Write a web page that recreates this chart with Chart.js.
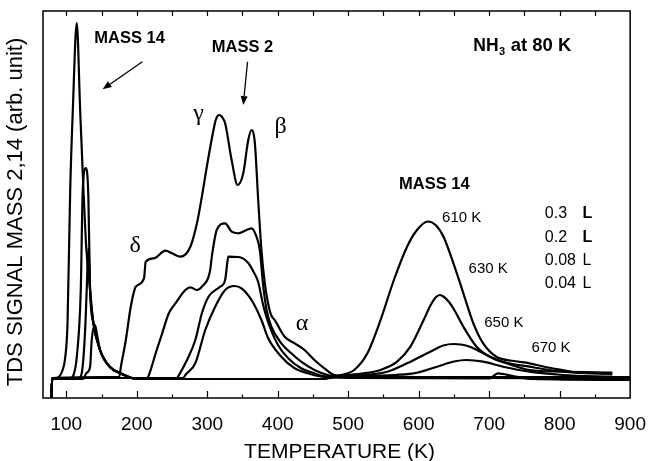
<!DOCTYPE html>
<html><head><meta charset="utf-8">
<script src="https://cdn.jsdelivr.net/npm/chart.js@4"></script>
<style>html,body{margin:0;padding:0;background:#fff}</style>
</head><body>
<canvas id="c" width="653" height="461"></canvas>
<script>
// ---- data: [temperature (K), signal (arb. unit)] ----
const xTickLabels = [100, 200, 300, 400, 500, 600, 700, 800, 900];

// MASS 14 traces (multilayer peak at low T, recombinative N desorption at high T)
const m14_03L = [[79,0],[80,19],[86,20],[94.8,28],[98.6,41],[101.8,75],[105.6,208],[109.3,288],[114.9,375],[119.7,288],[124.4,208],[128.6,148],[133.8,108],[138.5,75],[147.9,48],[162,31],[176,25],[189,21],[200,19],[460,19],[475,21],[489.6,23],[508.5,28],[527.2,44.7],[545.9,78],[564.8,118],[583.5,151.3],[597.6,168],[613,176.5],[624,173],[635.2,161.3],[649.3,134.7],[663.4,104.7],[677.5,74.7],[691.5,54.7],[710.3,41.3],[735,37],[757.2,34.7],[780,31],[804.2,28],[827.6,25.3],[874.6,24.7]];
const m14_02L = [[79,0],[80,19],[104,19],[110.3,23],[114.9,41],[120.6,108],[123.4,208],[127.9,230],[131.4,200],[133.8,108],[138.5,75],[147.9,48],[162,31],[176,25],[189,21],[200,19],[460,19],[485,22],[522.5,24.7],[545.9,28],[569.4,36.3],[588.2,51.3],[607,78],[617,93],[624,100.5],[630,103],[636,101],[643,96],[649.3,89.5],[663.4,71.3],[682.1,51.3],[700.8,41.3],[724.4,34.7],[757.2,28],[804.2,26.3],[874.6,25.3]];
const m14_008L = [[79,0],[80,19],[117,19],[122,25],[126.8,68],[129,108],[131.5,150],[133.8,108],[138.5,75],[147.9,48],[162,31],[176,25],[189,21],[200,19],[460,19],[485,22],[522.5,23],[555.4,26.3],[583.5,34.7],[616.3,46.3],[635,52.5],[649.3,54],[660,53.5],[672.7,51.3],[696.2,43],[719.7,36.3],[757.2,31.3],[804.2,26.3],[874.6,24]];
const m14_004L = [[79,0],[80,19],[124,19],[128.6,25],[133.8,31],[136.1,58],[140.8,73],[143.5,64],[147.9,48],[162,31],[176,25],[189,21],[200,19],[460,19],[485,21],[593,24.7],[625.8,31.3],[650,36.5],[668,38],[691.5,36.3],[719.7,31.3],[757.2,26.3],[804.2,23],[874.6,21.3]];

// MASS 2 traces (delta, gamma, beta, alpha states)
const m2_03L = [[79,0],[80,20],[175.2,21],[177.5,31.3],[184.5,58],[191.5,91.3],[198.6,111.3],[210.3,119.7],[212.7,136.3],[224.4,139.7],[240.8,147.3],[250.1,144.7],[262,141.3],[276.1,151.3],[285.4,174.7],[292.4,201.3],[299.4,231.3],[308.9,268],[312.5,279],[316.9,283],[321,281],[325.4,274.7],[334.6,238],[343.1,213],[351.1,224.7],[358.2,258],[362.8,268],[367.6,254.7],[372.3,198],[376.9,148],[381.7,114.7],[386.3,94.7],[390.6,83],[395.8,78],[409.9,61.3],[424,54.7],[438,48],[452.1,38],[466.2,29.7],[480.3,23],[500,22],[600,21],[750,20],[900,20]];
const m2_02L = [[79,0],[80,20],[215,20],[217.3,23],[226.8,44.7],[236.1,64.7],[245.5,84.7],[254.9,94.7],[269,108],[276.1,110.7],[285.4,108],[292.4,111.3],[304.2,128],[306.5,141.3],[313.5,168],[325.4,174.7],[334.6,166.3],[344.1,164.7],[362.8,169.7],[369.9,161.3],[374.6,148],[379.3,113],[384.2,88],[391,71.3],[405.1,54.7],[419.2,44.7],[433.2,36.3],[452.1,28],[470.8,23],[490,21],[700,20],[900,19]];
const m2_008L = [[79,0],[80,20],[257,20],[259.9,23],[271.3,38],[283.1,58],[292.4,84.7],[301.8,101.3],[318.3,111.3],[325.4,118],[328.6,136],[330,141.3],[344.1,141],[358.2,135],[366.6,125],[372.3,116],[379.3,93],[386.3,76],[400.4,53],[414.5,40],[433.2,29.7],[452.1,24.7],[463.8,22],[500,21],[900,21]];
const m2_004L = [[79,0],[80,20],[266,20],[269,23],[283.1,34.7],[297.2,68],[311.3,91.3],[325.4,108],[338.5,112],[348.7,109.7],[362.8,98],[376.9,78],[386.3,60],[405.1,41.3],[424,29.7],[442.7,24.7],[456.8,22],[500,20],[700.5,19.5],[712.3,24.7],[733.8,22],[760,19],[900,18]];

const seriesList = [m14_03L, m14_02L, m14_008L, m14_004L, m2_03L, m2_02L, m2_008L, m2_004L];

// ---- annotations (text, T, signal) ----
const BOLD = 'bold 16.5px "Liberation Sans", Arial, sans-serif';
const NORM = '15px "Liberation Sans", Arial, sans-serif';
const EXPO = '16px "Liberation Sans", Arial, sans-serif';
const EXPOB = 'bold 16px "Liberation Sans", Arial, sans-serif';
const GREEK = '24px "Liberation Serif", "DejaVu Serif", serif';
const textLabels = [
  {t:'MASS 14', x:189.9, y:359.7, f:BOLD, a:'center'},
  {t:'MASS 2', x:350, y:350.5, f:BOLD, a:'center'},
  {t:'MASS 14', x:622.3, y:214, f:BOLD, a:'center'},
  {t:'\u03B3', x:287.7, y:284, f:GREEK, a:'center'},
  {t:'\u03B2', x:404, y:271, f:GREEK, a:'center'},
  {t:'\u03B4', x:197.9, y:152.2, f:GREEK, a:'center'},
  {t:'\u03B1', x:434.5, y:74.7, f:GREEK, a:'center'},
  {t:'610 K', x:661, y:180.5, f:NORM, a:'center'},
  {t:'630 K', x:698.6, y:129, f:NORM, a:'center'},
  {t:'650 K', x:720.8, y:75.5, f:NORM, a:'center'},
  {t:'670 K', x:787.7, y:50.5, f:NORM, a:'center'},
  {t:'0.3', x:779, y:184, f:EXPO, a:'left'},
  {t:'0.2', x:779, y:160.5, f:EXPO, a:'left'},
  {t:'0.08', x:779, y:137.2, f:EXPO, a:'left'},
  {t:'0.04', x:779, y:114.7, f:EXPO, a:'left'},
  {t:'L', x:832.5, y:184, f:EXPOB, a:'left'},
  {t:'L', x:832.5, y:160.5, f:EXPOB, a:'left'},
  {t:'L', x:832.5, y:137.2, f:EXPO, a:'left'},
  {t:'L', x:832.5, y:114.7, f:EXPO, a:'left'}
];
const arrows = [
  {x1:207.9, y1:336.3, x2:151.5, y2:308.7},
  {x1:357.2, y1:336.3, x2:351.1, y2:293}
];

const decor = {
  id: 'decor',
  afterDraw(chart) {
    const {ctx, chartArea: a, scales: {x, y}} = chart;
    ctx.save();
    ctx.strokeStyle = '#000'; ctx.fillStyle = '#000';
    // frame
    ctx.lineWidth = 1.5;
    ctx.strokeRect(a.left, a.top, a.right - a.left, a.bottom - a.top);
    // ticks (inside)
    ctx.lineWidth = 1.2;
    for (let t = 100; t < 900; t += 50) {
      const px = Math.round(x.getPixelForValue(t)) + 0.5;
      const major = t % 100 === 0;
      ctx.beginPath();
      ctx.moveTo(px, a.bottom); ctx.lineTo(px, a.bottom - (major ? 7 : 3.5));
      ctx.moveTo(px, a.top); ctx.lineTo(px, a.top + 5);
      ctx.stroke();
    }
    // text labels
    ctx.textBaseline = 'middle';
    for (const l of textLabels) {
      ctx.font = l.f; ctx.textAlign = l.a;
      ctx.fillText(l.t, x.getPixelForValue(l.x), y.getPixelForValue(l.y));
    }
    // NH3 at 80 K
    const nx = x.getPixelForValue(677.5), ny = y.getPixelForValue(352);
    ctx.textAlign = 'left';
    ctx.font = 'bold 17.5px "Liberation Sans", Arial, sans-serif';
    ctx.fillText('NH', nx, ny);
    const w = ctx.measureText('NH').width;
    ctx.font = 'bold 11px "Liberation Sans", Arial, sans-serif';
    ctx.fillText('3', nx + w + 0.5, ny + 6);
    const w3 = ctx.measureText('3').width;
    ctx.font = 'bold 18.5px "Liberation Sans", Arial, sans-serif';
    ctx.fillText('at 80 K', nx + w + w3 + 6, ny);
    // arrows
    ctx.lineWidth = 1.3;
    for (const ar of arrows) {
      const x1 = x.getPixelForValue(ar.x1), y1 = y.getPixelForValue(ar.y1);
      const x2 = x.getPixelForValue(ar.x2), y2 = y.getPixelForValue(ar.y2);
      const ang = Math.atan2(y2 - y1, x2 - x1);
      const hl = 9, hw = 3.5;
      const bx = x2 - hl * Math.cos(ang), by = y2 - hl * Math.sin(ang);
      ctx.beginPath(); ctx.moveTo(x1, y1); ctx.lineTo(bx, by); ctx.stroke();
      ctx.beginPath();
      ctx.moveTo(x2, y2);
      ctx.lineTo(bx + hw * Math.sin(ang), by - hw * Math.cos(ang));
      ctx.lineTo(bx - hw * Math.sin(ang), by + hw * Math.cos(ang));
      ctx.closePath(); ctx.fill();
    }
    // axis titles
    ctx.textAlign = 'center'; ctx.textBaseline = 'middle';
    ctx.font = '21px "Liberation Sans", Arial, sans-serif';
    ctx.fillText('TEMPERATURE (K)', (a.left + a.right) / 2 + 3, 452);
    ctx.save();
    ctx.translate(16, 212);
    ctx.rotate(-Math.PI / 2);
    ctx.font = '22px "Liberation Sans", Arial, sans-serif';
    ctx.fillText('TDS SIGNAL MASS 2,14 (arb. unit)', 0, 0);
    ctx.restore();
    ctx.restore();
  }
};

new Chart(document.getElementById('c'), {
  type: 'line',
  data: {
    datasets: seriesList.map(s => ({
      data: s.map(p => ({x: p[0], y: p[1]})),
      borderColor: '#000',
      borderWidth: 2.2,
      pointRadius: 0,
      fill: false,
      cubicInterpolationMode: 'monotone'
    }))
  },
  options: {
    responsive: false,
    animation: false,
    devicePixelRatio: 1,
    layout: {padding: {left: 43, right: 19, top: 11, bottom: 0}},
    plugins: {legend: {display: false}, tooltip: {enabled: false}},
    scales: {
      x: {
        type: 'linear', min: 67, max: 900,
        afterBuildTicks: s => { s.ticks = xTickLabels.map(v => ({value: v})); },
        afterFit: s => { s.height = 63; },
        grid: {display: false},
        border: {display: false},
        ticks: {color: '#000', padding: 7, maxRotation: 0, autoSkip: false,
                font: {family: '"Liberation Sans", Arial, sans-serif', size: 19}}
      },
      y: {display: false, min: 0, max: 387}
    }
  },
  plugins: [decor]
});
</script>
</body></html>
